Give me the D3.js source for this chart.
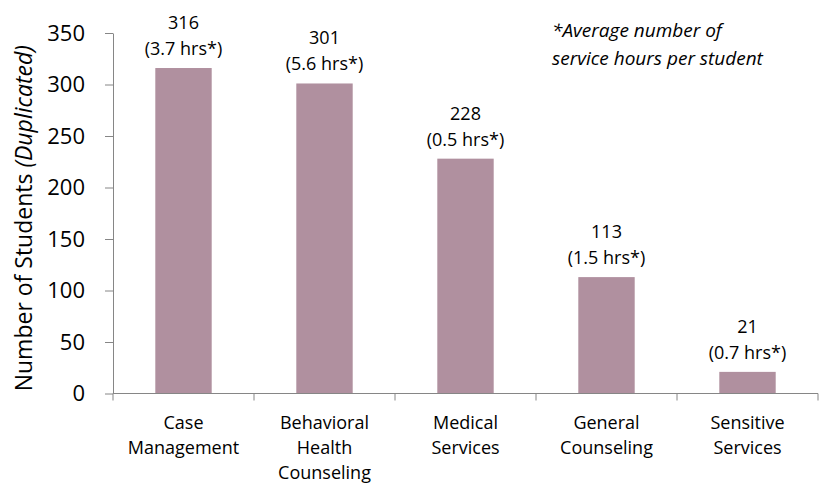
<!DOCTYPE html>
<html><head><meta charset="utf-8">
<script src="https://cdn.jsdelivr.net/npm/d3@7"></script>
<style>
html,body{margin:0;padding:0;background:#fff;}
text{font-family:"Open Sans", sans-serif;fill:#000;}
</style></head>
<body><svg id="c" width="824" height="485"></svg>
<script>
const categories = [["Case","Management"],["Behavioral","Health","Counseling"],["Medical","Services"],["General","Counseling"],["Sensitive","Services"]];
const students = [316, 301, 228, 113, 21];
const avgHours = ["3.7", "5.6", "0.5", "1.5", "0.7"];
const yTicks = [0, 50, 100, 150, 200, 250, 300, 350];

const svg = d3.select("#c");
const L = 113, R = 818, T = 33, B = 393.5;
const FS = 18;
const keys = categories.map(c => c.join(" "));
const x = d3.scaleBand().domain(keys).range([L, R]).paddingInner(0.6).paddingOuter(0.3);
const y = d3.scaleLinear().domain([0, 350]).range([B, T]);
const axisCol = "#868686";

// y axis
const ya = svg.append("g").attr("transform", `translate(${L},0)`)
  .call(d3.axisLeft(y).tickValues(yTicks).tickSize(8).tickSizeOuter(0).tickPadding(20));
ya.select(".domain").attr("stroke", axisCol);
ya.selectAll(".tick line").attr("stroke", axisCol);
ya.selectAll(".tick text").attr("font-size", 22).attr("font-family", "Open Sans").attr("fill", "#000");

// bars
svg.append("g").selectAll("rect").data(students).join("rect")
  .attr("x", (d, i) => x(keys[i])).attr("width", x.bandwidth())
  .attr("y", d => y(d)).attr("height", d => B - y(d))
  .attr("fill", "#b0909f");

// x axis
svg.append("line").attr("x1", L).attr("x2", R).attr("y1", B).attr("y2", B).attr("stroke", axisCol);
const gap = (x.step() - x.bandwidth()) / 2;
const bounds = keys.map(k => x(k) - gap).concat([R]);
svg.append("g").selectAll("line").data(bounds).join("line")
  .attr("x1", d => d).attr("x2", d => d).attr("y1", B).attr("y2", B + 7).attr("stroke", axisCol);

// category labels
const cl = svg.append("g").selectAll("text").data(categories).join("text")
  .attr("text-anchor", "middle").attr("font-size", FS)
  .attr("transform", (d, i) => `translate(${x(keys[i]) + x.bandwidth() / 2},0)`);
cl.selectAll("tspan").data(d => d).join("tspan")
  .attr("x", 0).attr("y", (d, j) => 422 + j * 25).attr("dominant-baseline", "central").text(d => d);

// value labels
const vl = svg.append("g").selectAll("text").data(students).join("text")
  .attr("text-anchor", "middle").attr("font-size", FS)
  .attr("transform", (d, i) => `translate(${x(keys[i]) + x.bandwidth() / 2},${y(d)})`);
vl.append("tspan").attr("x", 0).attr("y", -46).attr("dominant-baseline", "central").text(d => d);
vl.append("tspan").attr("x", 0).attr("y", -20).attr("dominant-baseline", "central").text((d, i) => `(${avgHours[i]} hrs*)`);

// note
const note = svg.append("text").attr("font-size", 19).attr("font-style", "italic");
note.append("tspan").attr("x", 552).attr("y", 30).attr("dominant-baseline", "central").text("*Average number of");
note.append("tspan").attr("x", 552).attr("y", 58).attr("dominant-baseline", "central").text("service hours per student");

// y title
const yt = svg.append("text").attr("text-anchor", "middle").attr("font-size", 23)
  .attr("transform", `translate(23,${(T + B) / 2 + 5}) rotate(-90)`).attr("dominant-baseline", "central");
yt.append("tspan").text("Number of Students ");
yt.append("tspan").attr("font-style", "italic").text("(Duplicated)");
</script></body></html>
